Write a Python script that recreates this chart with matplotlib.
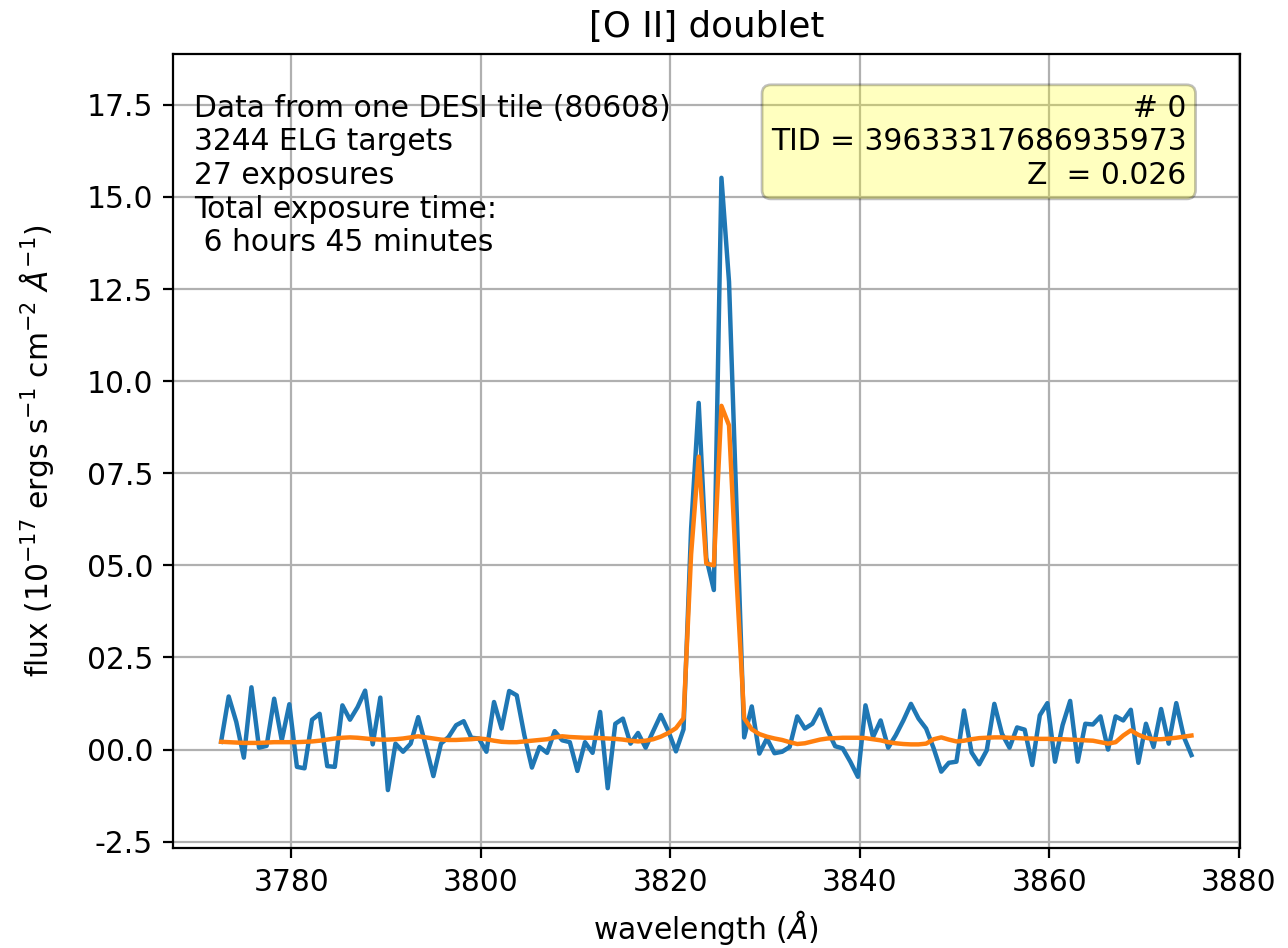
import numpy as np
import matplotlib
matplotlib.use("Agg")
import matplotlib.pyplot as plt

plt.rcParams['font.size'] = 10.7
plt.rcParams['lines.linewidth'] = 1.6

# wavelength grid (0.8 A pixels)
lam0 = 3772.6
dlam = 0.8

flux = [0.21, 1.44, 0.75, -0.22, 1.69, 0.05, 0.1, 1.38, 0.25, 1.23,
        -0.47, -0.51, 0.81, 0.97, -0.45, -0.47, 1.2, 0.81, 1.15, 1.6,
        0.14, 1.41, -1.1, 0.16, -0.06, 0.16, 0.88, 0.1, -0.72, 0.16,
        0.34, 0.66, 0.77, 0.32, 0.3, -0.06, 1.29, 0.57, 1.59, 1.47,
        0.39, -0.49, 0.07, -0.09, 0.5, 0.25, 0.2, -0.58, 0.2, -0.09,
        1.02, -1.05, 0.7, 0.84, 0.16, 0.45, 0.05, 0.5, 0.94, 0.5,
        -0.05, 0.55, 6.0, 9.41, 5.2, 4.33, 15.52, 12.7, 6.5, 0.33,
        1.17, -0.11, 0.3, -0.1, -0.06, 0.07, 0.9, 0.57, 0.7, 1.09,
        0.52, 0.09, 0.03, -0.33, -0.74, 1.2, 0.34, 0.79, 0.05, 0.39,
        0.79, 1.24, 0.84, 0.57, 0.03, -0.6, -0.36, -0.33, 1.06, -0.08,
        -0.4, -0.02, 1.24, 0.43, 0.05, 0.6, 0.54, -0.42, 0.93, 1.26,
        -0.33, 0.66, 1.32, -0.33, 0.7, 0.68, 0.9, 0.0, 0.9, 0.79,
        1.08, -0.36, 0.7, 0.07, 1.1, 0.16, 1.26, 0.34, -0.15]

# best-fit model (orange)
model = [0.21, 0.2, 0.19, 0.18, 0.18, 0.18, 0.19, 0.2, 0.2, 0.2,
         0.2, 0.21, 0.22, 0.24, 0.27, 0.3, 0.32, 0.33, 0.32, 0.3,
         0.28, 0.27, 0.27, 0.28, 0.3, 0.33, 0.36, 0.33, 0.3, 0.27,
         0.26, 0.26, 0.27, 0.28, 0.3, 0.28, 0.24, 0.21, 0.2, 0.2,
         0.22, 0.24, 0.26, 0.28, 0.33, 0.36, 0.34, 0.33, 0.32, 0.32,
         0.31, 0.3, 0.29, 0.27, 0.24, 0.22, 0.24, 0.28, 0.35, 0.45,
         0.58, 0.85, 5.3, 7.95, 5.05, 5.0, 9.33, 8.8, 4.6, 0.85,
         0.55, 0.42, 0.35, 0.3, 0.26, 0.2, 0.15, 0.17, 0.22, 0.27,
         0.3, 0.31, 0.32, 0.32, 0.32, 0.31, 0.28, 0.25, 0.2, 0.17,
         0.15, 0.14, 0.14, 0.16, 0.28, 0.33, 0.27, 0.22, 0.24, 0.28,
         0.31, 0.32, 0.33, 0.33, 0.32, 0.31, 0.3, 0.3, 0.29, 0.29,
         0.28, 0.28, 0.27, 0.26, 0.25, 0.24, 0.2, 0.16, 0.2, 0.38,
         0.52, 0.4, 0.32, 0.28, 0.28, 0.3, 0.32, 0.35, 0.38]

wave = lam0 + dlam * np.arange(len(flux))

info = "Data from one DESI tile (80608)\n3244 ELG targets\n27 exposures\nTotal exposure time:\n 6 hours 45 minutes"
tid = "39633317686935973"
zval = 0.026
idx = 0

fig = plt.figure(figsize=(6.44, 4.74), dpi=200)
ax = fig.add_subplot(111)
fig.subplots_adjust(left=0.134, right=0.9627, top=0.943, bottom=0.1052)

ax.plot(wave, flux)
ax.plot(wave, model)

ax.set_ylim(-2.68, 18.88)
ax.yaxis.set_major_formatter(matplotlib.ticker.FormatStrFormatter('%04.1f'))

ax.set_title("[O II] doublet")
ax.set_xlabel(r"wavelength ($\AA$)")
ax.set_ylabel(r"flux ($10^{-17}$ ergs s$^{-1}$ cm$^{-2}$ $\AA^{-1}$)", labelpad=11)
ax.grid(True)

ax.text(0.02, 0.95, info, transform=ax.transAxes, va='top', ha='left')
ax.text(0.95, 0.95, "# %d\nTID = %s\nZ  = %.3f" % (idx, tid, zval),
        transform=ax.transAxes, va='top', ha='right', multialignment='right',
        bbox=dict(boxstyle='round', facecolor='yellow', alpha=0.25))

plt.savefig("out.png", dpi=200)
